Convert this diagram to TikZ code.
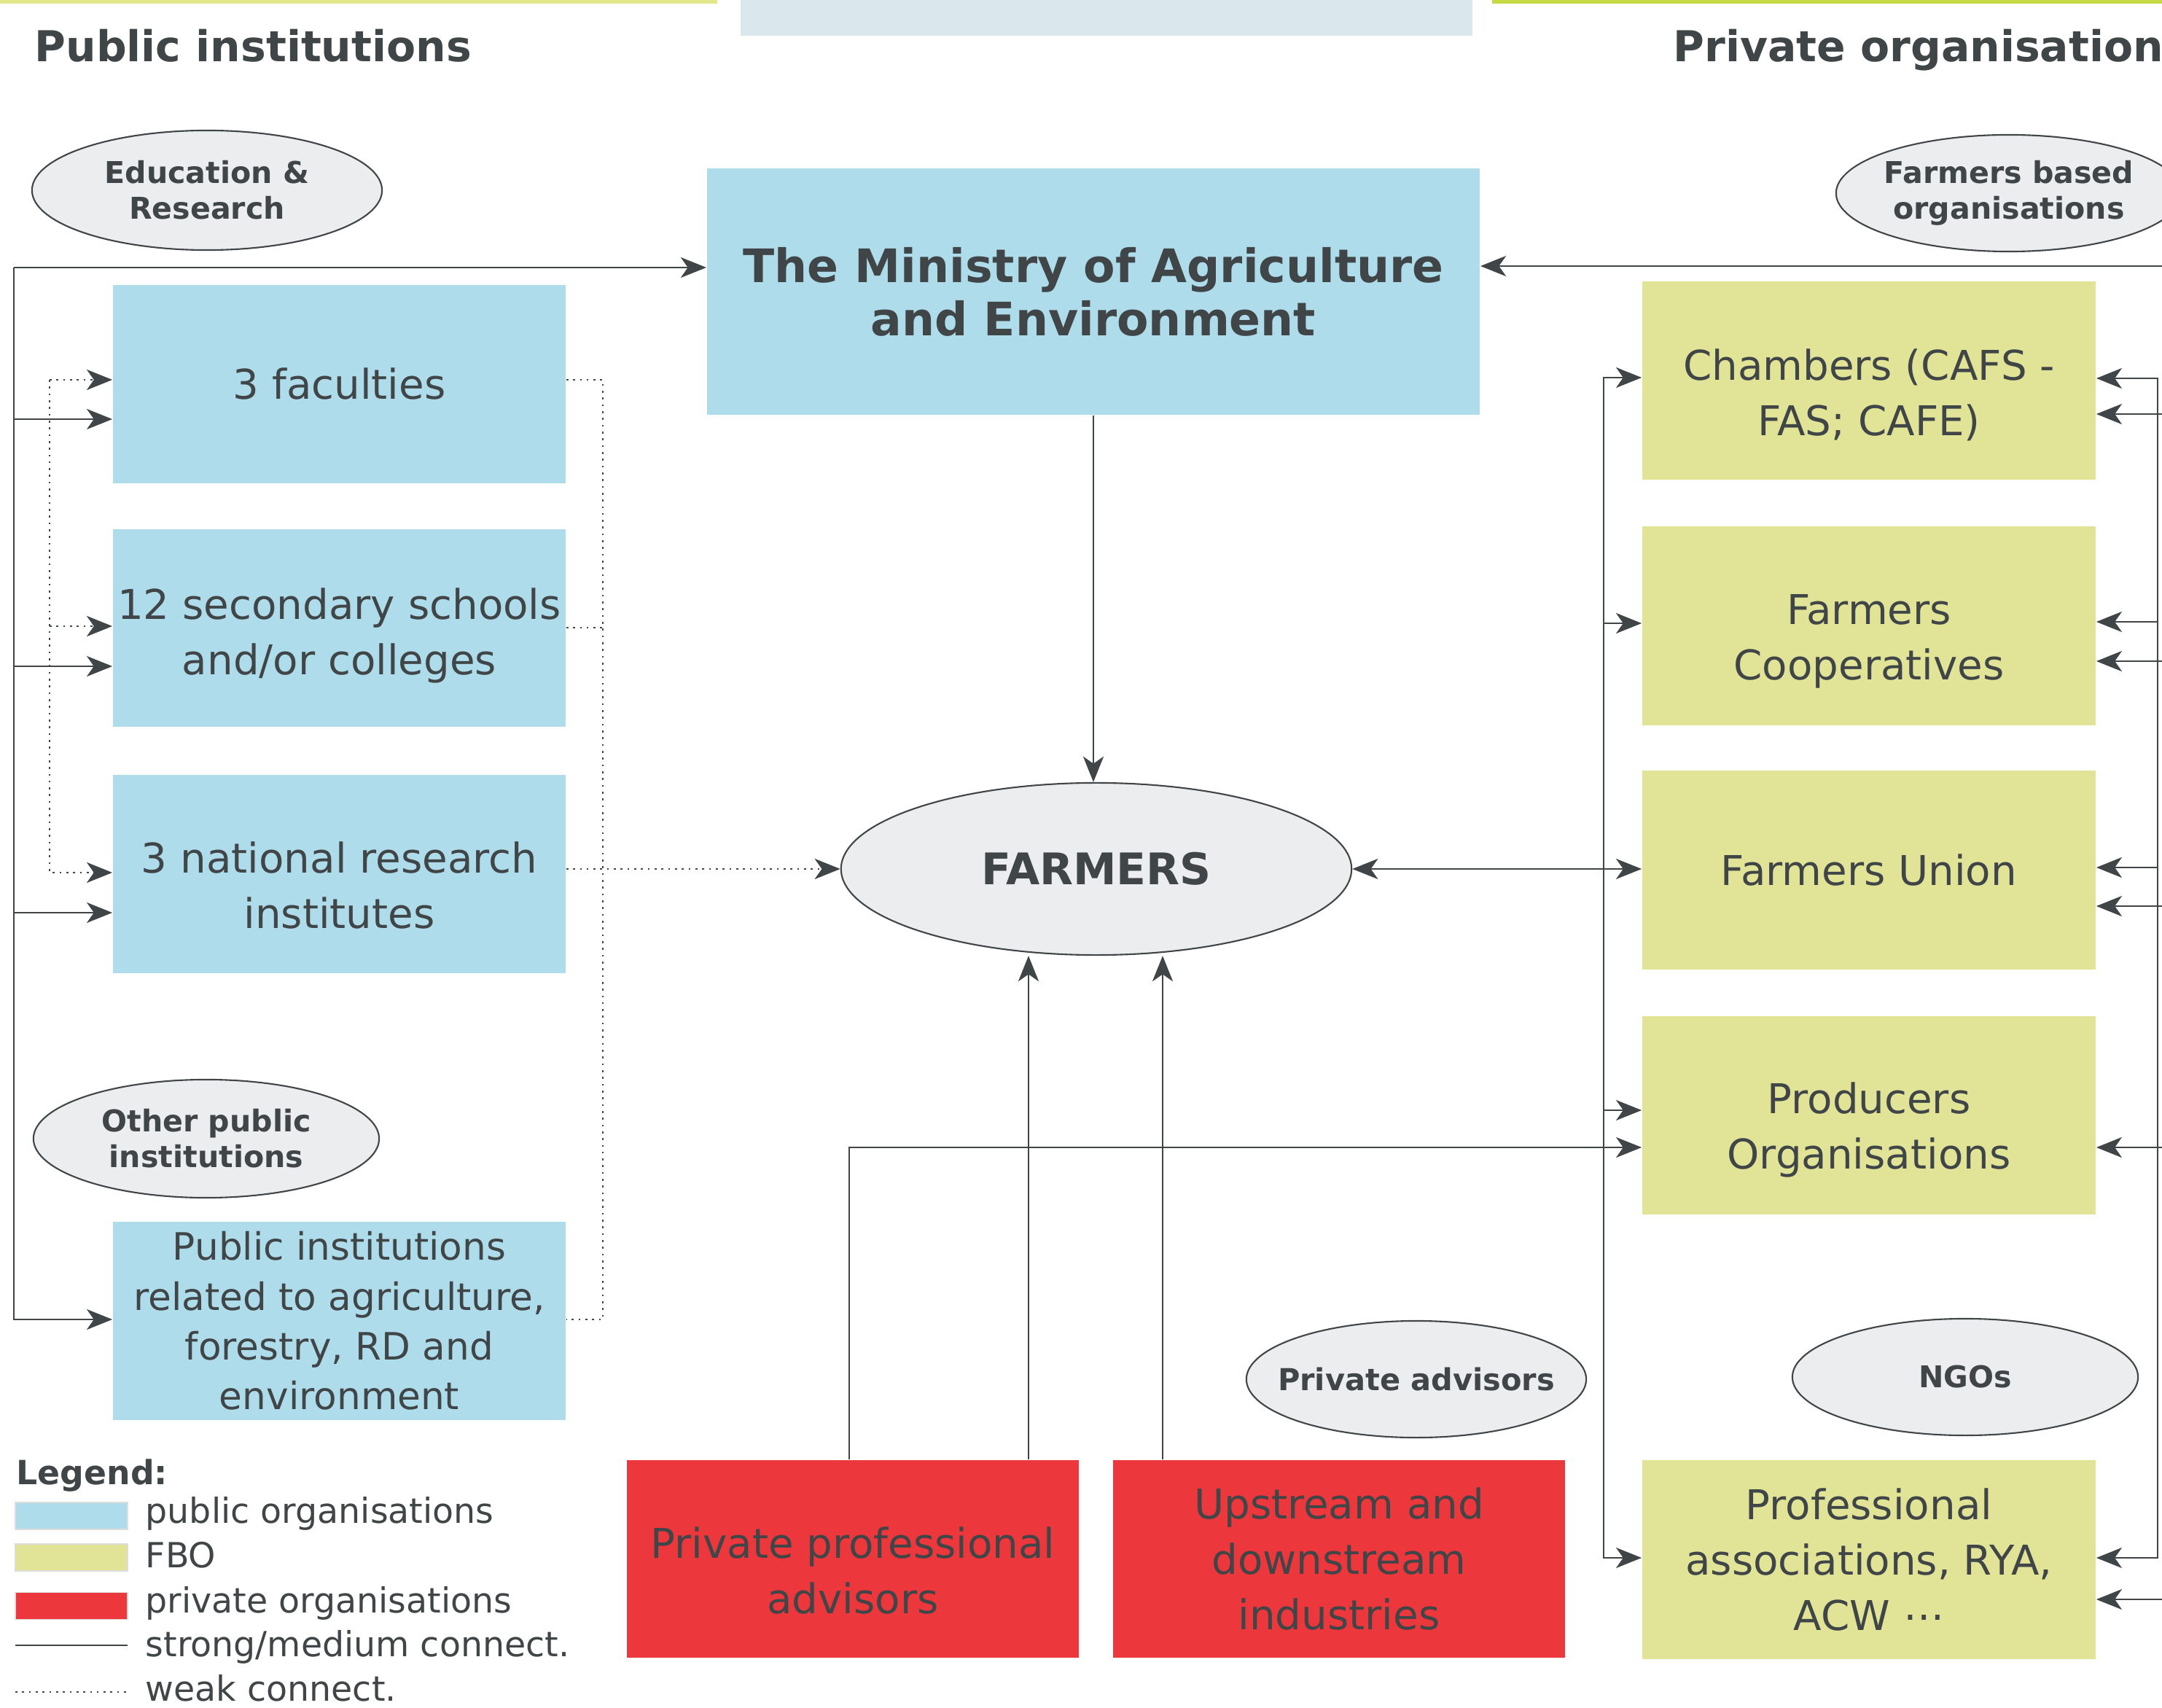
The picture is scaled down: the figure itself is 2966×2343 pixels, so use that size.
\documentclass[tikz,border=0pt]{standalone}
\usepackage{fontspec}
\setmainfont{DejaVu Sans}
\usetikzlibrary{arrows.meta,shapes.geometric}
\definecolor{pubblue}{HTML}{AFDCEA}
\definecolor{fbo}{HTML}{E1E396}
\definecolor{privred}{HTML}{EC373C}
\definecolor{ellfill}{HTML}{ECEDEF}
\definecolor{ink}{HTML}{404547}
\definecolor{barl}{HTML}{E3E78B}
\definecolor{barr}{HTML}{C5DA44}
\definecolor{topbox}{HTML}{DAE7EC}
\definecolor{swline}{HTML}{DDDDDD}
\newcommand\padtop[1]{\rule{0pt}{#1}}
\begin{document}
\begin{tikzpicture}[x=0.01cm,y=-0.01cm,
  box/.style={rectangle, inner sep=0pt, align=center, text=ink,
    font=\fontsize{16}{21.6}\selectfont},
  pub/.style={box, fill=pubblue, minimum width=6.21cm, minimum height=2.71cm},
  fbobox/.style={box, fill=fbo, minimum width=6.22cm, minimum height=2.72cm},
  redbox/.style={box, fill=privred, minimum width=6.19cm, minimum height=2.71cm},
  ell/.style={ellipse, draw=ink, line width=0.6pt, fill=ellfill, text=ink,
    inner xsep=-14pt, inner ysep=-3pt, align=center,
    font=\fontsize{11.7}{14}\selectfont\bfseries},
  ttl/.style={inner sep=0pt, anchor=base west, text=ink,
    font=\fontsize{16.6}{20}\selectfont\bfseries},
  leg/.style={inner sep=0pt, anchor=base west, text=ink,
    font=\fontsize{13.5}{16}\selectfont},
  swatch/.style={rectangle, inner sep=0pt, draw=swline, line width=0.5pt,
    minimum width=1.54cm, minimum height=0.37cm},
  conn/.style={draw=ink, line width=0.6pt},
  weak/.style={draw=ink, line width=0.75pt, dash pattern=on 0.75pt off 1.9pt},
  arr/.style={-{Stealth[length=10pt,width=8pt,inset=2.8pt]}},
  biarr/.style={{Stealth[length=10pt,width=8pt,inset=2.8pt]}-{Stealth[length=10pt,width=8pt,inset=2.8pt]}}
]
\useasboundingbox (0,0) rectangle (2966,2343);

% top decorations
\fill[barl] (0,0) rectangle (984,5);
\fill[barr] (2047,0) rectangle (2966,5);
\fill[topbox] (1016,0) rectangle (2020,49);

% titles
\node[ttl] (tpub) at (47,85) {Public institutions};
\node[ttl] (tpriv) at (2295,85) {Private organisations};

% ellipses
\node[ell, minimum width=4.80cm, minimum height=1.64cm] (edu) at (284,261) {Education \&\\Research};
\node[ell, minimum width=4.74cm, minimum height=1.60cm] (fbol) at (2756,265) {Farmers based\\organisations};
\node[ell, minimum width=4.74cm, minimum height=1.62cm] (oth) at (283,1562) {Other public\\institutions};
\node[ell, minimum width=4.66cm, minimum height=1.60cm, font=\fontsize{11.8}{14}\selectfont\bfseries] (priv) at (1943,1892) {Private advisors};
\node[ell, minimum width=4.74cm, minimum height=1.60cm] (ngo) at (2696,1889) {NGOs};
\node[ell, minimum width=7.00cm, minimum height=2.36cm, font=\fontsize{17}{20}\selectfont\bfseries] (farm) at (1504,1192) {FARMERS};

% ministry
\node[box, fill=pubblue, minimum width=10.60cm, minimum height=3.38cm,
  font=\fontsize{18}{20.8}\selectfont\bfseries] (min) at (1500,400)
  {The Ministry of Agriculture\\and Environment};

% public boxes
\node[pub] (fac) at (465.5,527) {3 faculties};
\node[pub] (sec) at (465.5,861.5) {\padtop{0.63cm}12 secondary schools\\and/or colleges};
\node[pub] (res) at (465.5,1199) {\padtop{0.73cm}3 national research\\institutes};
\node[pub, font=\fontsize{14.7}{19.4}\selectfont] (pinst) at (465.5,1812)
  {Public institutions\\related to agriculture,\\forestry, RD and\\environment};

% FBO boxes
\node[fbobox] (ch) at (2564,522) {\padtop{0.83cm}Chambers (CAFS -\\FAS; CAFE)};
\node[fbobox] (coop) at (2564,858.5) {\padtop{0.83cm}Farmers\\Cooperatives};
\node[fbobox] (union) at (2564,1193.5) {Farmers Union};
\node[fbobox] (prod) at (2564,1530) {\padtop{0.83cm}Producers\\Organisations};
\node[fbobox] (prof) at (2564,2139.5) {Professional\\associations, RYA,\\ACW ⋯};

% private boxes
\node[redbox] (ppa) at (1170,2138.5) {\padtop{0.75cm}Private professional\\advisors};
\node[redbox] (upd) at (1837,2138.5) {Upstream and\\downstream\\industries};

% ---- left solid bus
\coordinate (lb0) at (19,367);
\coordinate (lb1) at (19,575);
\coordinate (lb2) at (19,914);
\coordinate (lb3) at (19,1252);
\coordinate (lb4) at (19,1810);
\draw[conn,arr] (lb0) -- (lb0 -| min.west);
\draw[conn,arr] (lb0) -- (lb4) -- (lb4 -| pinst.west);
\draw[conn,arr] (lb1) -- (lb1 -| fac.west);
\draw[conn,arr] (lb2) -- (lb2 -| sec.west);
\draw[conn,arr] (lb3) -- (lb3 -| res.west);

% ---- left dotted bus
\coordinate (dl1) at (68,521);
\coordinate (dl2) at (68,859);
\coordinate (dl3) at (68,1197);
\draw[weak,arr] (dl1) -- (dl1 -| fac.west);
\draw[weak,arr] (dl1) -- (dl3) -- (dl3 -| res.west);
\draw[weak,arr] (dl2) -- (dl2 -| sec.west);

% ---- right dotted bus (public side)
\coordinate (dr1) at (827,521);
\coordinate (dr2) at (827,861);
\coordinate (dr4) at (827,1810);
\draw[weak] (dr1 -| fac.east) -- (dr1) -- (dr4) -- (dr4 -| pinst.east);
\draw[weak] (dr2 -| sec.east) -- (dr2);
\draw[weak,arr] (res.east |- farm.west) -- (farm.west);

% ---- ministry to farmers
\draw[conn,arr] (min.south) -- (min.south |- farm.north);

% ---- private boxes to farmers
\coordinate (pa) at (1411,0);
\coordinate (pb) at (1595,0);
\coordinate (pc) at (1165,0);
\coordinate (pp) at (0,1574);
\draw[conn,arr] (ppa.north -| pa) -- (farm.south -| pa);
\draw[conn,arr] (upd.north -| pb) -- (farm.south -| pb);
\draw[conn,arr] (ppa.north -| pc) |- (prod.west |- pp);

% ---- FBO left bus
\coordinate (rb1) at (2200,518);
\coordinate (rb2) at (2200,855);
\coordinate (rb4) at (2200,1523);
\coordinate (rb5) at (2200,2137);
\draw[conn,biarr] (rb1 -| ch.west) -- (rb1) -- (rb5) -- (rb5 -| prof.west);
\draw[conn,arr] (rb2) -- (rb2 -| coop.west);
\draw[conn,arr] (rb4) -- (rb4 -| prod.west);
\draw[conn,biarr] (farm.east) -- (union.west |- farm.east);

% ---- FBO right bus
\coordinate (fr1) at (2960,519);
\coordinate (fr2) at (2960,853);
\coordinate (fr3) at (2960,1190);
\coordinate (fr5) at (2960,2137);
\draw[conn,biarr] (fr1 -| ch.east) -- (fr1) -- (fr5) -- (fr5 -| prof.east);
\draw[conn,arr] (fr2) -- (fr2 -| coop.east);
\draw[conn,arr] (fr3) -- (fr3 -| union.east);

% ---- lines coming from beyond the right edge
\coordinate (e0) at (2990,365);
\coordinate (e1) at (2990,568);
\coordinate (e2) at (2990,907);
\coordinate (e3) at (2990,1243);
\coordinate (e4) at (2990,1574);
\coordinate (e5) at (2990,2194);
\draw[conn,arr] (e0) -- (e0 -| min.east);
\draw[conn,arr] (e1) -- (e1 -| ch.east);
\draw[conn,arr] (e2) -- (e2 -| coop.east);
\draw[conn,arr] (e3) -- (e3 -| union.east);
\draw[conn,arr] (e4) -- (e4 -| prod.east);
\draw[conn,arr] (e5) -- (e5 -| prof.east);

% ---- legend
\node[inner sep=0pt, anchor=base west, text=ink, font=\fontsize{13}{16}\selectfont\bfseries] (legt) at (22,2036) {Legend:};
\node[swatch, fill=pubblue] (sw1) at (98,2079.5) {};
\node[swatch, fill=fbo] (sw2) at (98,2136.5) {};
\node[swatch, fill=privred] (sw3) at (98,2203) {};
\node[leg] (lt1) at (199,2089) {public organisations};
\node[leg] (lt2) at (199,2150) {FBO};
\node[leg] (lt3) at (199,2212) {private organisations};
\node[leg] (lt4) at (199,2272) {strong/medium connect.};
\node[leg] (lt5) at (199,2333) {weak connect.};
\coordinate (ls0) at (21,2257);
\coordinate (ls1) at (175,2257);
\coordinate (lw0) at (21,2321);
\coordinate (lw1) at (175,2321);
\draw[conn] (ls0) -- (ls1);
\draw[weak, line width=0.6pt] (lw0) -- (lw1);
\end{tikzpicture}
\end{document}
